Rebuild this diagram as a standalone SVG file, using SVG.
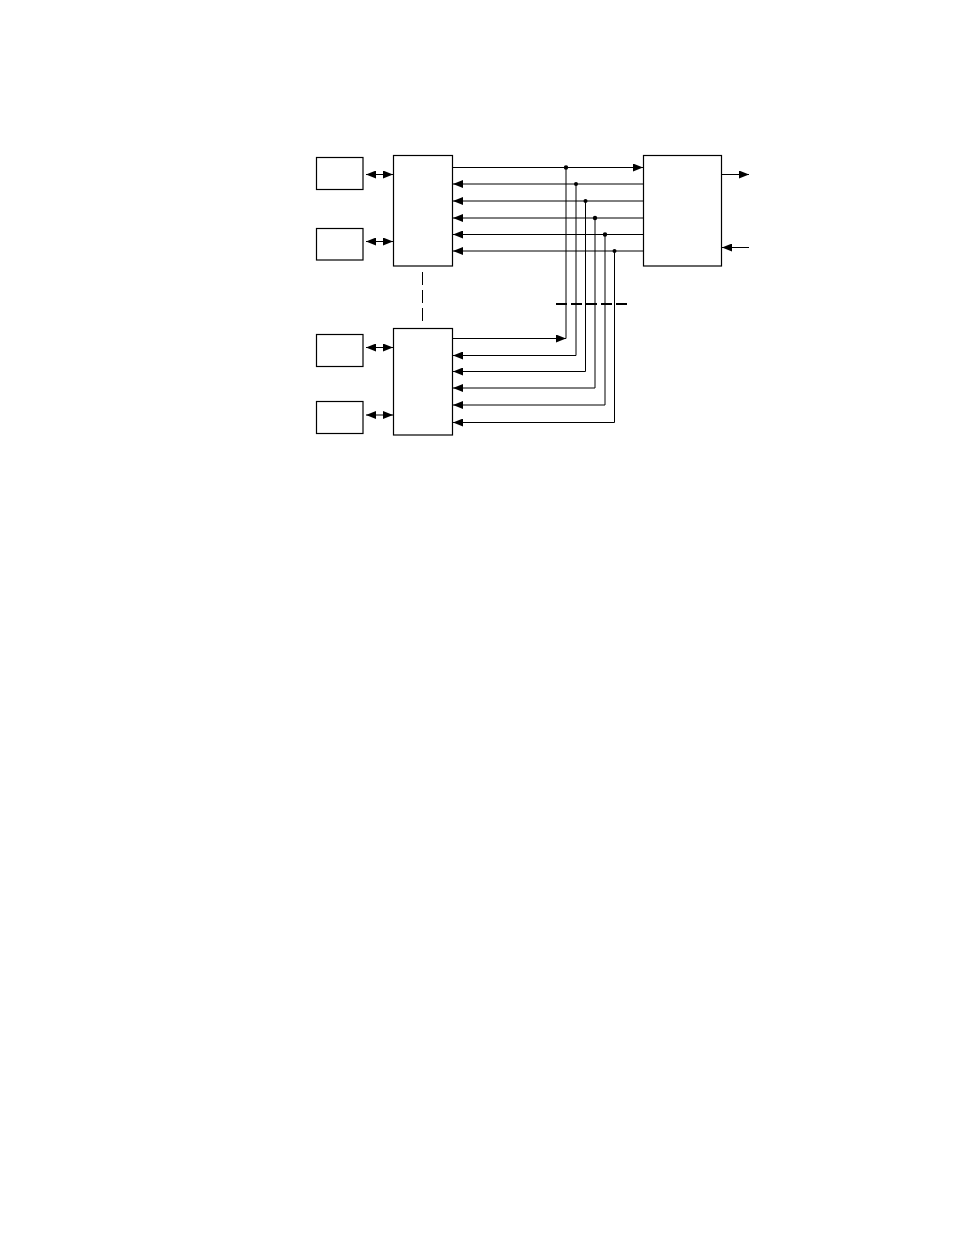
<svg xmlns="http://www.w3.org/2000/svg" width="954" height="1235" viewBox="0 0 954 1235">
<style>
.box{fill:#fff;stroke:#000;stroke-width:1.2}
.ln{fill:none;stroke:#000;stroke-width:1}
.dot{fill:#000}
</style>
<defs>
<marker id="ah" viewBox="0 0 10 8" refX="10" refY="4" markerWidth="10" markerHeight="8" markerUnits="userSpaceOnUse" orient="auto-start-reverse">
<path d="M0,0 L10,4 L0,8 Z" fill="#000"/>
</marker>
</defs>
<rect width="954" height="1235" fill="#fff"/>
<g id="s1"><rect class="box" x="316.5" y="157.5" width="46.5" height="32"/></g>
<g id="s2"><rect class="box" x="316.5" y="228.5" width="46.5" height="31.5"/></g>
<g id="s3"><rect class="box" x="316.5" y="334.5" width="46.5" height="32"/></g>
<g id="s4"><rect class="box" x="316.5" y="401.5" width="46.5" height="32"/></g>
<g id="bus1"><rect class="box" x="393.5" y="155.5" width="59" height="110.5"/></g>
<g id="bus2"><rect class="box" x="393.5" y="328.5" width="59" height="106.5"/></g>
<g id="ctrl"><rect class="box" x="643.5" y="155.5" width="78" height="110.5"/></g>
<g id="connectors">
<line class="ln" x1="366" y1="174.5" x2="393" y2="174.5" marker-start="url(#ah)" marker-end="url(#ah)"/>
<line class="ln" x1="366" y1="241.5" x2="393" y2="241.5" marker-start="url(#ah)" marker-end="url(#ah)"/>
<line class="ln" x1="366" y1="347.5" x2="393" y2="347.5" marker-start="url(#ah)" marker-end="url(#ah)"/>
<line class="ln" x1="366" y1="415" x2="393" y2="415" marker-start="url(#ah)" marker-end="url(#ah)"/>
<line class="ln" x1="422.5" y1="272" x2="422.5" y2="324" stroke-dasharray="13,5"/>
<line x1="556" y1="304" x2="630" y2="304" stroke="#000" stroke-width="2" stroke-dasharray="11,4"/>
<line class="ln" x1="452.5" y1="167.5" x2="643" y2="167.5" marker-end="url(#ah)"/>
<line class="ln" x1="643" y1="184" x2="453" y2="184" marker-end="url(#ah)"/>
<line class="ln" x1="643" y1="201" x2="453" y2="201" marker-end="url(#ah)"/>
<line class="ln" x1="643" y1="218" x2="453" y2="218" marker-end="url(#ah)"/>
<line class="ln" x1="643" y1="234.5" x2="453" y2="234.5" marker-end="url(#ah)"/>
<line class="ln" x1="643" y1="251" x2="453" y2="251" marker-end="url(#ah)"/>
<polyline class="ln" points="566,167.5 566,338.5 452.5,338.5"/>
<line class="ln" x1="452.5" y1="338.5" x2="566" y2="338.5" marker-end="url(#ah)"/>
<polyline class="ln" points="576,184 576,355.5 453,355.5" marker-end="url(#ah)"/>
<polyline class="ln" points="585.5,201 585.5,371.5 453,371.5" marker-end="url(#ah)"/>
<polyline class="ln" points="595,218 595,388 453,388" marker-end="url(#ah)"/>
<polyline class="ln" points="605,234.5 605,405 453,405" marker-end="url(#ah)"/>
<polyline class="ln" points="614.5,251 614.5,422.5 453,422.5" marker-end="url(#ah)"/>
<circle class="dot" cx="566" cy="167.5" r="2.2"/>
<circle class="dot" cx="576" cy="184" r="2"/>
<circle class="dot" cx="585.5" cy="201" r="2"/>
<circle class="dot" cx="595" cy="218" r="2.2"/>
<circle class="dot" cx="605" cy="234.5" r="2.2"/>
<circle class="dot" cx="614.5" cy="251" r="2"/>
<line class="ln" x1="721.5" y1="174.5" x2="749" y2="174.5" marker-end="url(#ah)"/>
<line class="ln" x1="749" y1="247.5" x2="722" y2="247.5" marker-end="url(#ah)"/>
</g>
</svg>
